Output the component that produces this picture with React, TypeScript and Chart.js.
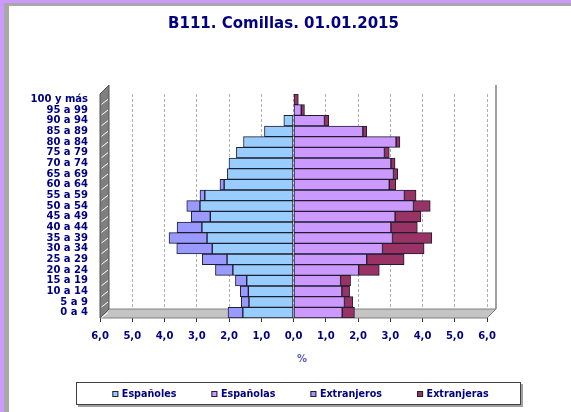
import { useEffect, useRef } from "react";
import { Chart, registerables } from "chart.js";

Chart.register(...registerables);

const ageGroups = [
  "100 y más", "95 a 99", "90 a 94", "85 a 89", "80 a 84", "75 a 79", "70 a 74",
  "65 a 69", "60 a 64", "55 a 59", "50 a 54", "45 a 49", "40 a 44", "35 a 39",
  "30 a 34", "25 a 29", "20 a 24", "15 a 19", "10 a 14", "5 a 9", "0 a 4",
];

// percentages (men shown to the left)
const espanoles = [0, 0, 0.3, 0.9, 1.55, 1.77, 2.0, 2.05, 2.15, 2.75, 2.9, 2.58, 2.84, 2.68, 2.52, 2.06, 1.88, 1.45, 1.4, 1.38, 1.57];
const extranjeros = [0, 0, 0, 0, 0, 0, 0, 0, 0.13, 0.15, 0.41, 0.59, 0.77, 1.18, 1.1, 0.77, 0.54, 0.35, 0.25, 0.24, 0.46];
const espanolas = [0, 0.24, 0.96, 2.15, 3.18, 2.82, 3.02, 3.1, 2.97, 3.44, 3.72, 3.15, 3.02, 3.07, 2.76, 2.27, 2.02, 1.46, 1.5, 1.58, 1.51];
const extranjeras = [0.15, 0.1, 0.13, 0.12, 0.12, 0.15, 0.13, 0.13, 0.2, 0.36, 0.52, 0.8, 0.82, 1.22, 1.29, 1.16, 0.64, 0.31, 0.24, 0.26, 0.38];

const seriesNames = ["Españoles", "Españolas", "Extranjeros", "Extranjeras"];
const seriesColors = ["#99CCFF", "#CC99FF", "#9999FF", "#993366"];

const titleText = "B111. Comillas. 01.01.2015";
const axisTitle = "%";
const xMin = -6;
const xMax = 6;

const FONT = "'DejaVu Sans', sans-serif";
const NAVY = "#000080";

const decor = {
  id: "decor",
  beforeDatasetsDraw(chart: any) {
    const { ctx, chartArea: a } = chart;
    const d = 9;
    ctx.save();
    // back right edge
    ctx.strokeStyle = "#A0A0A0";
    ctx.lineWidth = 2;
    ctx.beginPath();
    ctx.moveTo(a.right + d, a.top - d);
    ctx.lineTo(a.right + d, a.bottom - d);
    ctx.stroke();
    // floor
    ctx.lineWidth = 1;
    ctx.fillStyle = "#C4C4C4";
    ctx.strokeStyle = "#808080";
    ctx.beginPath();
    ctx.moveTo(a.left, a.bottom);
    ctx.lineTo(a.left + d, a.bottom - d);
    ctx.lineTo(a.right + d, a.bottom - d);
    ctx.lineTo(a.right, a.bottom);
    ctx.closePath();
    ctx.fill();
    ctx.stroke();
    // left wall
    ctx.fillStyle = "#7F7F7F";
    ctx.strokeStyle = "#555";
    ctx.beginPath();
    ctx.moveTo(a.left, a.top);
    ctx.lineTo(a.left + d, a.top - d);
    ctx.lineTo(a.left + d, a.bottom - d);
    ctx.lineTo(a.left, a.bottom);
    ctx.closePath();
    ctx.fill();
    ctx.stroke();
    // hatch
    const ys = chart.scales.y;
    ctx.strokeStyle = "#FFFFFF";
    ctx.lineWidth = 1;
    for (let i = 0; i < ageGroups.length; i++) {
      const y = ys.getPixelForValue(i) + 4;
      ctx.beginPath();
      ctx.moveTo(a.left + 1.5, y + 1);
      ctx.lineTo(a.left + d - 1, y - 4);
      ctx.stroke();
    }
    ctx.restore();
  },
  afterDraw(chart: any) {
    const { ctx } = chart;
    ctx.save();
    // title
    ctx.font = `bold 15px ${FONT}`;
    ctx.fillStyle = NAVY;
    ctx.textAlign = "center";
    ctx.textBaseline = "middle";
    ctx.fillText(titleText, 283.5, 24.5);

    // axis title
    ctx.font = `bold 10px ${FONT}`;
    ctx.fillStyle = "#5A5AC0";
    ctx.fillText(axisTitle, 302, 359);

    // legend box
    const bx = 76, by = 382, bw = 445, bh = 23;
    ctx.fillStyle = "#A0A0A0";
    ctx.fillRect(bx + 2, by + 2, bw, bh);
    ctx.fillStyle = "#FFFFFF";
    ctx.fillRect(bx, by, bw, bh);
    ctx.strokeStyle = "#404040";
    ctx.lineWidth = 1;
    ctx.strokeRect(bx + 0.5, by + 0.5, bw - 1, bh - 1);

    ctx.font = `bold 9.6px ${FONT}`;
    ctx.textAlign = "left";
    const sq = 6, gapTxt = 3.5, gapItem = 35;
    const widths = seriesNames.map((n) => ctx.measureText(n).width);
    const total = widths.reduce((s, w) => s + w + sq + gapTxt, 0) + gapItem * (seriesNames.length - 1);
    let x = bx + bw / 2 - total / 2 + 2;
    const cy = 394;
    seriesNames.forEach((n, i) => {
      ctx.fillStyle = seriesColors[i];
      ctx.fillRect(x, cy - 3, sq, sq);
      ctx.strokeStyle = "#222";
      ctx.strokeRect(x + 0.5, cy - 2.5, sq - 1, sq - 1);
      ctx.fillStyle = NAVY;
      ctx.fillText(n, x + sq + gapTxt, cy);
      x += sq + gapTxt + widths[i] + gapItem;
    });
    ctx.restore();
  },
};

export default function App() {
  const ref = useRef<HTMLCanvasElement>(null);

  useEffect(() => {
    const values = [
      espanoles.map((v) => -v),
      espanolas,
      extranjeros.map((v) => -v),
      extranjeras,
    ];
    const chart = new Chart(ref.current as HTMLCanvasElement, {
      type: "bar",
      data: {
        labels: ageGroups,
        datasets: seriesNames.map((name, i) => ({
          label: name,
          data: values[i],
          backgroundColor: seriesColors[i],
          borderColor: "#1E1E2E",
          borderWidth: 1,
          borderSkipped: false,
          categoryPercentage: 1,
          barPercentage: 1,
        })),
      },
      options: {
        indexAxis: "y",
        responsive: false,
        animation: false,
        devicePixelRatio: 1,
        layout: { padding: { left: 0, right: 84, top: 94, bottom: 0 } },
        plugins: {
          legend: { display: false },
          tooltip: { enabled: false },
          title: { display: false },
        },
        scales: {
          x: {
            stacked: true,
            min: xMin,
            max: xMax,
            afterFit: (s: any) => {
              s.height = 94;
            },
            ticks: {
              stepSize: 1,
              color: NAVY,
              padding: 8,
              font: { family: FONT, size: 10, weight: "bold" },
              callback: (v: any) => Math.abs(Number(v)).toFixed(1).replace(".", ","),
            },
            grid: {
              color: "#B0B0B0",
              tickColor: "#333",
              tickLength: 4,
              drawTicks: true,
            },
            border: { display: false, dash: [3, 2] },
          },
          y: {
            stacked: true,
            afterFit: (s: any) => {
              s.width = 100;
            },
            ticks: {
              autoSkip: false,
              color: NAVY,
              padding: 12,
              font: { family: FONT, size: 10, weight: "bold" },
            },
            grid: { display: false, drawTicks: false },
            border: { display: false },
          },
        },
      },
      plugins: [decor],
    });
    return () => chart.destroy();
  }, []);

  return (
    <div
      style={{
        position: "fixed",
        left: 0,
        top: 0,
        width: 571,
        height: 412,
        background: "#CC99FF",
        overflow: "hidden",
      }}
    >
      <div
        style={{
          position: "absolute",
          left: 4,
          top: 3,
          right: 0,
          bottom: 0,
          background: "#FFFFFF",
          borderLeft: "5px solid #A8A8A8",
          borderTop: "3px solid #A8A8A8",
        }}
      />
      <canvas
        ref={ref}
        width={571}
        height={412}
        style={{ position: "absolute", left: 0, top: 0, width: 571, height: 412 }}
      />
    </div>
  );
}
